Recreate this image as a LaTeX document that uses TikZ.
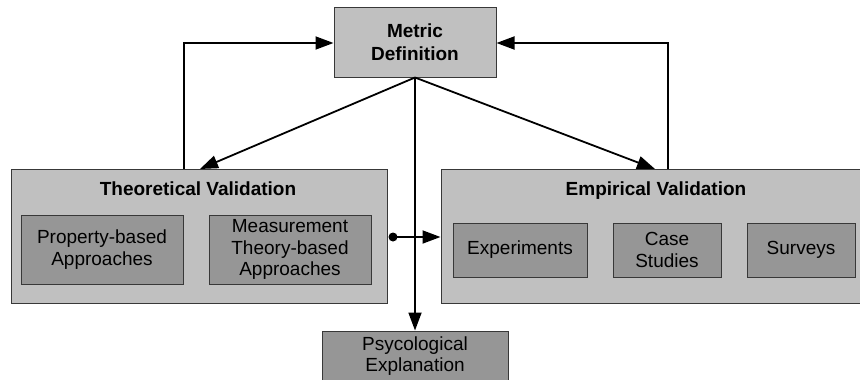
\documentclass[tikz,border=0pt]{standalone}
\usepackage{fontspec}
\setmainfont{Liberation Sans}
\usetikzlibrary{arrows.meta}
\definecolor{boxlight}{HTML}{C0C0C0}
\definecolor{boxdark}{HTML}{969696}
\definecolor{boxedge}{HTML}{383838}
\begin{document}
\begin{tikzpicture}[x=1pt,y=-1pt,
  every node/.style={font=\fontsize{19}{21.5}\selectfont, inner sep=0pt, align=center},
  outerbox/.style={draw=boxedge, line width=1pt, fill=boxlight, rectangle},
  innerbox/.style={draw=boxedge, line width=1pt, fill=boxdark, rectangle},
  arr/.style={line width=1.8pt, -{Triangle[length=18pt,width=13pt]}},
  plain/.style={line width=1.8pt}]
\clip (0,0) rectangle (860,380);
\fill[white] (0,0) rectangle (860,380);

% top: metric definition
\node[outerbox, minimum width=162pt, minimum height=70pt, font=\fontsize{19}{22.5}\selectfont\bfseries]
  (metric) at (415,42) {Metric\\Definition};

% theoretical validation group
\node[outerbox, minimum width=376pt, minimum height=134pt] (theo) at (199,236) {};
\node[font=\fontsize{19}{21.5}\selectfont\bfseries] (theotitle) at (198,189) {Theoretical Validation};
\node[innerbox, minimum width=162pt, minimum height=69pt] (prop) at (102,249.5) {Property-based\\Approaches};
\node[innerbox, minimum width=162pt, minimum height=69pt] (meas) at (290,249.5) {Measurement\\Theory-based\\Approaches};

% empirical validation group
\node[outerbox, minimum width=429pt, minimum height=134pt] (emp) at (655.5,236) {};
\node[font=\fontsize{19}{21.5}\selectfont\bfseries] (emptitle) at (656,191) {Empirical Validation};
\node[innerbox, minimum width=134pt, minimum height=54pt] (expt) at (520,250) {Experiments};
\node[innerbox, minimum width=108pt, minimum height=54pt] (case) at (667,250) {Case\\Studies};
\node[innerbox, minimum width=108pt, minimum height=54pt] (surv) at (801,250) {Surveys};

% bottom: explanation
\node[innerbox, minimum width=186pt, minimum height=50pt] (psy) at (415,356) {Psycological\\Explanation};

% feedback loops into the metric definition
\coordinate (lt) at (184,43);
\coordinate (rt) at (668,43);
\draw[arr] (lt |- theo.north) -- (lt) -- (metric.west |- lt);
\draw[arr] (rt |- emp.north) -- (rt) -- (metric.east |- rt);

% metric definition fans out
\coordinate (theoin) at (200,169);
\coordinate (empin) at (655,169);
\draw[arr] (metric.south) -- (theoin);
\draw[arr] (metric.south) -- (empin);
\draw[arr] (metric.south) -- (psy.north);

% theoretical feeds empirical
\node[circle, fill=black, minimum size=9pt] (dot) at (393,237) {};
\draw[arr] (dot.center) -- (dot -| emp.west);
\end{tikzpicture}
\end{document}
